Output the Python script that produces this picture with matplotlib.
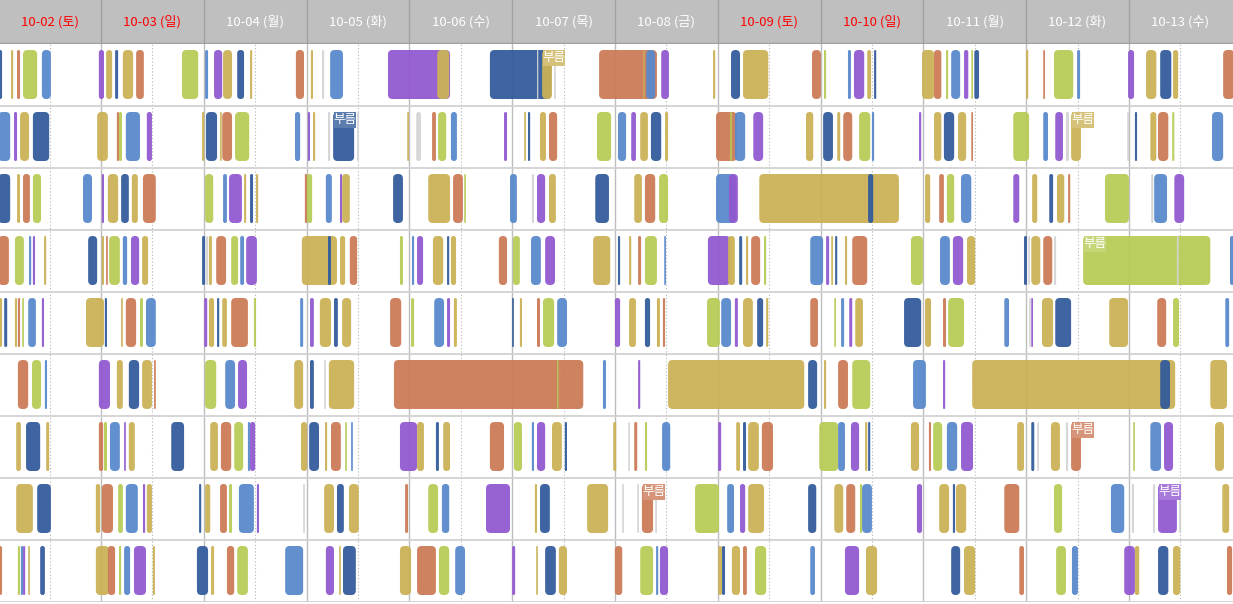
import matplotlib
matplotlib.use("Agg")
import matplotlib.pyplot as plt
from matplotlib.patches import FancyBboxPatch, Rectangle
from matplotlib.colors import to_rgb

plt.rcParams['font.family'] = ['Noto Sans CJK KR', 'DejaVu Sans']

# header labels (one column per day, 24h each)
days = ["10-02 (토)", "10-03 (일)", "10-04 (월)", "10-05 (화)", "10-06 (수)", "10-07 (목)",
        "10-08 (금)", "10-09 (토)", "10-10 (일)", "10-11 (월)", "10-12 (화)", "10-13 (수)"]
weekend = [True, True, False, False, False, False, False, True, True, False, False, False]

# P purple, O olive, G green, B blue, D dark blue, R orange, L light gray
colors = {'P': '#9158cf', 'O': '#cbb257', 'G': '#b6cc56', 'B': '#5889cc',
          'D': '#325b9b', 'R': '#cc7a56', 'L': '#d4d4d4'}

# (start hour, end hour, colour) counted from 10-02 00:00
row1 = [(0.0, 0.9, 'D'), (3.0, 3.5, 'O'), (4.4, 5.1, 'R'), (5.8, 9.1, 'G'), (10.2, 12.3, 'B'),
        (23.5, 24.7, 'P'), (25.2, 26.6, 'O'), (27.3, 28.0, 'D'), (29.1, 31.5, 'O'), (32.2, 34.0, 'R'),
        (42.9, 46.7, 'G'), (48.3, 49.0, 'B'), (50.4, 52.3, 'P'), (52.5, 54.6, 'O'), (55.8, 57.4, 'D'),
        (58.8, 59.3, 'O'), (69.5, 71.4, 'R'), (73.0, 73.5, 'O'), (75.6, 76.1, 'L'), (77.5, 80.5, 'B'),
        (91.0, 105.5, 'P'), (102.5, 105.3, 'O'), (114.8, 129.1, 'D'), (125.8, 126.1, 'L'),
        (127.0, 129.3, 'O'), (129.8, 130.2, 'L'), (140.3, 153.8, 'R'), (150.6, 150.9, 'O'),
        (151.3, 153.4, 'B'), (154.8, 156.6, 'P'), (166.9, 167.4, 'O'), (171.1, 173.2, 'D'),
        (173.9, 179.8, 'O'), (190.0, 192.1, 'R'), (192.8, 193.3, 'G'), (198.4, 199.1, 'B'),
        (199.8, 202.2, 'P'), (202.9, 203.8, 'O'), (204.5, 205.0, 'D'), (215.7, 218.5, 'O'),
        (218.5, 220.2, 'R'), (221.3, 221.8, 'G'), (222.5, 224.6, 'B'), (225.5, 226.5, 'P'),
        (227.2, 227.6, 'G'), (227.9, 229.0, 'D'), (240.0, 240.5, 'O'), (244.0, 244.4, 'R'),
        (246.5, 251.0, 'G'), (251.9, 252.6, 'B'), (263.8, 265.2, 'P'), (268.0, 270.4, 'O'),
        (271.3, 273.9, 'D'), (274.3, 275.5, 'O'), (286.0, 288.6, 'R')]

row2 = [(0.0, 2.8, 'B'), (3.7, 4.4, 'P'), (5.1, 7.2, 'O'), (8.1, 11.9, 'D'), (23.1, 25.6, 'O'),
        (27.7, 28.2, 'R'), (28.2, 28.9, 'G'), (29.8, 33.1, 'B'), (34.7, 35.9, 'P'), (47.6, 48.1, 'O'),
        (48.5, 51.1, 'D'), (51.8, 52.2, 'O'), (52.3, 54.6, 'R'), (55.3, 58.6, 'G'), (69.3, 70.5, 'B'),
        (72.3, 72.8, 'P'), (73.5, 74.0, 'O'), (77.0, 77.5, 'L'), (78.2, 83.1, 'D'), (83.8, 84.2, 'L'),
        (95.5, 95.9, 'O'), (97.6, 98.7, 'L'), (101.3, 102.2, 'R'), (102.7, 104.6, 'G'),
        (105.7, 107.1, 'B'), (118.1, 118.8, 'P'), (122.8, 123.2, 'O'), (123.7, 124.2, 'D'),
        (126.5, 127.9, 'O'), (128.6, 130.5, 'R'), (139.8, 143.1, 'G'), (144.7, 146.6, 'B'),
        (147.8, 148.9, 'P'), (149.9, 151.7, 'O'), (152.4, 154.8, 'D'), (155.7, 156.4, 'O'),
        (167.6, 172.5, 'R'), (170.9, 171.3, 'G'), (172.0, 174.4, 'B'), (176.3, 178.6, 'P'),
        (188.6, 190.3, 'O'), (192.6, 194.9, 'D'), (195.9, 196.6, 'O'), (197.3, 199.4, 'R'),
        (201.0, 203.6, 'G'), (204.0, 204.5, 'B'), (215.0, 215.5, 'P'), (218.5, 220.2, 'O'),
        (220.8, 223.2, 'D'), (224.1, 226.0, 'O'), (227.2, 227.6, 'R'), (237.0, 240.7, 'G'),
        (244.0, 245.1, 'B'), (246.8, 248.6, 'P'), (249.3, 250.0, 'L'), (250.5, 252.8, 'O'),
        (263.6, 264.0, 'L'), (265.4, 265.9, 'D'), (269.0, 270.4, 'O'), (270.8, 273.2, 'R'),
        (274.1, 274.6, 'G'), (283.4, 286.0, 'B')]

row3 = [(0.0, 2.8, 'D'), (4.4, 5.1, 'O'), (5.8, 7.4, 'R'), (8.1, 10.0, 'G'), (19.8, 21.9, 'B'),
        (24.2, 24.7, 'P'), (25.6, 28.0, 'O'), (28.7, 30.5, 'D'), (31.2, 32.6, 'O'), (33.8, 36.8, 'R'),
        (48.3, 50.2, 'G'), (52.5, 53.4, 'B'), (53.9, 56.9, 'P'), (57.4, 57.9, 'O'), (58.8, 59.5, 'D'),
        (60.2, 60.7, 'O'), (71.6, 72.1, 'R'), (72.1, 73.3, 'G'), (76.5, 77.9, 'B'), (79.8, 80.3, 'P'),
        (80.3, 82.1, 'O'), (92.2, 94.5, 'D'), (100.4, 105.5, 'O'), (106.2, 108.5, 'R'),
        (108.8, 109.2, 'G'), (119.5, 121.1, 'B'), (124.6, 125.1, 'L'), (125.8, 127.7, 'P'),
        (128.6, 130.2, 'O'), (139.4, 142.6, 'D'), (148.5, 150.3, 'O'), (151.0, 153.4, 'R'),
        (154.3, 156.4, 'G'), (167.6, 172.3, 'B'), (170.6, 172.7, 'P'), (177.7, 210.3, 'O'),
        (203.1, 204.3, 'D'), (216.4, 217.6, 'O'), (219.7, 220.8, 'R'), (221.5, 223.2, 'G'),
        (224.8, 227.2, 'B'), (237.0, 238.4, 'P'), (241.4, 242.6, 'O'), (245.4, 246.3, 'D'),
        (247.2, 248.9, 'O'), (249.8, 250.3, 'R'), (258.4, 264.0, 'G'), (269.2, 269.7, 'L'),
        (269.9, 272.9, 'B'), (274.6, 276.9, 'P')]

row4 = [(0.0, 2.5, 'R'), (3.9, 6.0, 'G'), (7.2, 7.7, 'B'), (8.1, 8.6, 'P'), (10.7, 11.2, 'O'),
        (21.0, 23.1, 'D'), (24.2, 24.7, 'O'), (25.2, 25.6, 'R'), (25.9, 28.4, 'G'), (29.1, 30.1, 'B'),
        (31.0, 32.9, 'P'), (33.6, 35.0, 'O'), (47.6, 48.3, 'D'), (48.5, 49.0, 'L'), (49.2, 49.9, 'O'),
        (50.9, 53.2, 'R'), (54.4, 56.0, 'G'), (56.5, 57.4, 'B'), (57.9, 60.4, 'P'), (70.9, 79.1, 'O'),
        (77.0, 77.7, 'D'), (79.8, 81.0, 'O'), (82.1, 83.8, 'R'), (93.8, 94.5, 'G'), (96.6, 97.1, 'B'),
        (97.8, 99.2, 'P'), (101.5, 103.9, 'O'), (104.8, 105.3, 'D'), (105.7, 106.9, 'O'),
        (116.9, 118.8, 'R'), (120.2, 121.8, 'G'), (124.4, 126.7, 'B'), (127.7, 130.0, 'P'),
        (138.9, 142.9, 'O'), (144.7, 145.2, 'D'), (147.3, 147.8, 'O'), (149.4, 150.1, 'R'),
        (151.0, 153.8, 'G'), (155.5, 155.9, 'B'), (165.7, 170.9, 'P'), (170.4, 172.0, 'O'),
        (173.0, 173.7, 'D'), (174.6, 175.1, 'O'), (175.8, 177.9, 'R'), (178.8, 179.3, 'G'),
        (189.6, 192.6, 'B'), (193.3, 194.0, 'P'), (194.5, 194.9, 'O'), (195.4, 195.9, 'D'),
        (197.7, 198.2, 'O'), (199.4, 202.9, 'R'), (213.1, 215.9, 'G'), (219.9, 222.2, 'B'),
        (222.9, 225.3, 'P'), (226.2, 228.1, 'O'), (239.5, 240.2, 'D'), (240.5, 240.9, 'L'),
        (241.2, 243.3, 'O'), (244.0, 246.1, 'R'), (246.5, 247.0, 'L'), (253.3, 283.0, 'G'),
        (275.2, 275.6, 'L'), (287.6, 288.6, 'B')]

row5 = [(0.0, 0.9, 'O'), (1.4, 2.1, 'D'), (3.9, 4.4, 'O'), (4.6, 5.1, 'R'), (5.6, 6.0, 'G'),
        (7.0, 8.8, 'B'), (10.2, 10.7, 'P'), (20.5, 24.7, 'O'), (24.9, 25.4, 'D'), (28.7, 29.1, 'O'),
        (29.8, 32.2, 'R'), (33.1, 33.8, 'G'), (34.5, 36.8, 'B'), (48.1, 48.8, 'P'), (49.2, 50.4, 'O'),
        (51.1, 51.6, 'D'), (52.3, 53.4, 'O'), (54.4, 58.3, 'R'), (59.7, 60.2, 'G'), (70.5, 71.2, 'B'),
        (72.8, 73.7, 'P'), (75.1, 77.7, 'O'), (78.4, 79.3, 'D'), (80.3, 82.4, 'O'), (91.5, 94.1, 'R'),
        (96.4, 97.1, 'G'), (101.8, 104.1, 'B'), (104.8, 105.5, 'P'), (106.4, 107.1, 'O'),
        (120.0, 120.4, 'D'), (121.8, 122.3, 'O'), (125.8, 126.5, 'R'), (127.2, 129.8, 'G'),
        (130.5, 132.8, 'B'), (144.0, 145.2, 'P'), (147.3, 148.9, 'O'), (151.0, 152.2, 'D'),
        (153.8, 154.5, 'O'), (155.2, 155.7, 'R'), (165.5, 168.5, 'G'), (168.8, 171.1, 'B'),
        (172.0, 172.7, 'P'), (173.9, 176.2, 'O'), (177.2, 178.6, 'D'), (179.3, 179.8, 'O'),
        (189.6, 191.4, 'R'), (195.2, 195.6, 'G'), (196.8, 197.5, 'B'), (198.7, 199.4, 'P'),
        (200.1, 201.9, 'O'), (211.5, 215.5, 'D'), (216.4, 217.8, 'O'), (220.6, 221.3, 'R'),
        (221.8, 225.5, 'G'), (234.9, 236.0, 'B'), (240.7, 241.1, 'L'), (241.2, 241.6, 'P'),
        (243.7, 246.3, 'O'), (246.8, 250.5, 'D'), (259.4, 263.8, 'O'), (270.6, 272.7, 'R'),
        (274.3, 275.7, 'G'), (286.5, 287.4, 'B')]

row6 = [(4.6, 7.0, 'R'), (7.9, 10.0, 'G'), (10.9, 11.4, 'B'), (23.5, 26.1, 'P'), (27.7, 29.1, 'O'),
        (30.5, 32.9, 'D'), (33.6, 35.9, 'O'), (36.4, 36.8, 'R'), (48.3, 50.9, 'G'), (53.0, 55.3, 'B'),
        (56.0, 58.1, 'P'), (69.1, 71.2, 'O'), (72.8, 73.7, 'D'), (76.1, 76.5, 'L'), (77.2, 83.1, 'O'),
        (92.4, 136.6, 'R'), (130.5, 130.8, 'G'), (141.2, 141.9, 'B'), (149.4, 149.9, 'P'),
        (156.4, 188.2, 'O'), (189.1, 191.2, 'D'), (192.8, 193.3, 'O'), (196.1, 198.4, 'R'),
        (199.4, 203.6, 'G'), (213.6, 216.6, 'B'), (220.6, 221.1, 'P'), (227.4, 274.8, 'O'),
        (271.3, 273.6, 'D'), (283.0, 286.9, 'O')]

row7 = [(4.2, 5.3, 'O'), (6.5, 9.8, 'D'), (11.2, 11.9, 'O'), (23.5, 24.5, 'R'), (24.7, 25.4, 'G'),
        (26.1, 28.4, 'B'), (29.4, 29.8, 'P'), (30.5, 31.9, 'O'), (40.4, 43.4, 'D'), (49.5, 51.3, 'O'),
        (52.0, 54.4, 'R'), (55.1, 57.2, 'G'), (58.3, 58.8, 'B'), (58.8, 60.0, 'P'), (70.7, 72.1, 'O'),
        (72.6, 74.9, 'D'), (76.3, 76.8, 'O'), (77.7, 80.0, 'R'), (81.0, 81.4, 'G'), (82.4, 82.8, 'B'),
        (93.8, 97.8, 'P'), (97.8, 99.4, 'O'), (102.2, 102.9, 'D'), (103.9, 105.5, 'O'),
        (114.8, 118.1, 'R'), (120.4, 122.3, 'G'), (124.6, 125.1, 'B'), (125.8, 127.7, 'P'),
        (129.3, 131.6, 'O'), (132.3, 132.8, 'D'), (143.6, 144.3, 'O'), (147.1, 147.5, 'L'),
        (148.5, 149.2, 'R'), (151.0, 151.5, 'G'), (155.0, 156.9, 'B'), (168.1, 168.8, 'P'),
        (172.3, 173.2, 'O'), (173.9, 174.6, 'D'), (175.1, 177.6, 'O'), (178.3, 180.9, 'R'),
        (191.7, 196.1, 'G'), (196.1, 197.7, 'B'), (199.1, 201.0, 'P'), (202.4, 202.9, 'O'),
        (203.1, 203.6, 'D'), (213.1, 215.0, 'O'), (217.3, 217.8, 'R'), (218.3, 220.4, 'G'),
        (221.5, 223.9, 'B'), (224.8, 227.6, 'P'), (237.9, 239.5, 'O'), (241.2, 241.9, 'D'),
        (242.6, 243.0, 'L'), (245.8, 247.9, 'O'), (249.3, 249.8, 'L'), (250.5, 252.8, 'R'),
        (265.0, 265.4, 'G'), (269.0, 271.5, 'B'), (272.2, 274.3, 'P'), (284.1, 286.2, 'O')]

row8 = [(4.2, 8.1, 'O'), (9.1, 12.3, 'D'), (22.8, 23.8, 'O'), (24.2, 26.8, 'R'), (28.0, 29.1, 'G'),
        (29.8, 32.6, 'B'), (33.8, 34.3, 'P'), (34.7, 35.9, 'O'), (46.9, 47.4, 'D'), (48.3, 49.5, 'O'),
        (51.8, 53.4, 'R'), (53.9, 54.6, 'G'), (56.2, 59.7, 'B'), (60.4, 60.9, 'P'), (71.2, 71.6, 'L'),
        (76.1, 78.4, 'O'), (79.1, 80.7, 'D'), (81.9, 84.2, 'O'), (95.0, 95.7, 'R'), (100.4, 102.7, 'G'),
        (103.6, 105.3, 'B'), (113.9, 119.5, 'P'), (125.3, 125.8, 'O'), (126.5, 128.8, 'D'),
        (137.5, 142.4, 'O'), (145.7, 146.1, 'L'), (149.2, 149.6, 'L'), (150.3, 152.9, 'R'),
        (153.4, 153.8, 'L'), (162.7, 168.3, 'G'), (170.2, 171.8, 'B'), (173.2, 174.4, 'P'),
        (175.1, 178.8, 'O'), (189.1, 191.0, 'D'), (195.2, 197.3, 'O'), (198.0, 200.1, 'R'),
        (201.2, 201.7, 'G'), (201.7, 204.0, 'B'), (214.5, 215.7, 'P'), (219.7, 222.0, 'O'),
        (222.9, 223.4, 'D'), (223.6, 226.0, 'O'), (234.9, 238.4, 'R'), (246.5, 248.4, 'G'),
        (259.8, 262.9, 'B'), (264.7, 265.2, 'L'), (269.6, 270.1, 'L'), (270.8, 275.2, 'P'),
        (275.7, 276.2, 'L'), (285.8, 287.4, 'O')]

row9 = [(0.0, 0.9, 'R'), (4.6, 5.1, 'G'), (5.3, 5.8, 'B'), (5.8, 6.3, 'P'), (7.0, 7.4, 'O'),
        (9.8, 10.9, 'D'), (22.8, 25.9, 'O'), (25.6, 27.3, 'R'), (28.2, 28.7, 'G'), (29.4, 30.8, 'B'),
        (31.7, 34.5, 'P'), (36.1, 36.6, 'O'), (46.4, 49.0, 'D'), (49.7, 50.4, 'O'), (53.4, 55.1, 'R'),
        (55.8, 58.3, 'G'), (67.0, 71.2, 'B'), (76.5, 78.4, 'P'), (79.6, 80.0, 'O'), (80.5, 83.5, 'D'),
        (93.8, 96.4, 'O'), (97.8, 102.2, 'R'), (102.9, 105.3, 'G'), (106.7, 109.0, 'B'),
        (120.0, 120.7, 'P'), (125.6, 126.0, 'O'), (127.7, 130.2, 'D'), (130.9, 132.8, 'O'),
        (144.0, 145.7, 'R'), (149.9, 152.9, 'G'), (153.6, 154.1, 'B'), (154.5, 156.4, 'P'),
        (168.1, 169.0, 'O'), (169.0, 169.7, 'D'), (171.3, 173.2, 'O'), (173.9, 174.8, 'R'),
        (176.7, 179.3, 'G'), (189.6, 190.7, 'B'), (197.7, 201.0, 'P'), (202.6, 205.2, 'O'),
        (222.5, 224.6, 'D'), (225.5, 228.1, 'O'), (238.4, 239.5, 'R'), (247.0, 249.3, 'G'),
        (250.7, 252.1, 'B'), (262.9, 265.4, 'P'), (265.4, 266.4, 'O'), (270.8, 273.2, 'D'),
        (274.3, 276.0, 'O'), (286.9, 288.1, 'R')]

rows = [row1, row2, row3, row4, row5, row6, row7, row8, row9]

# "부름" tags: (row index, start hour, colour)
tags = [(0, 127.0, 'O'), (1, 78.2, 'D'), (1, 250.5, 'O'), (3, 253.3, 'G'),
        (6, 250.5, 'R'), (7, 150.3, 'R'), (7, 270.8, 'P')]

W, H = 1233, 604
fig = plt.figure(figsize=(W / 100, H / 100), dpi=100)
x0, x1 = 0.42, 288.3
xpp = (x1 - x0) / W          # hours per pixel
ypp = 9 / 558                # rows per pixel
asp = ypp / xpp

hdr = fig.add_axes([0, 1 - 44 / H, 1, 44 / H])
ax = fig.add_axes([0, 2 / H, 1, 558 / H])

for a in (hdr, ax):
    a.set_xlim(x0, x1)
    a.set_xticks([])
    a.set_yticks([])
    for sp in a.spines.values():
        sp.set_visible(False)

# header
hdr.set_facecolor('#bfbfbf')
hdr.set_ylim(0, 1)
for i, lab in enumerate(days):
    if i > 0:
        hdr.axvline(i * 24, color='#a2a2a2', lw=1.0)
    hdr.text(i * 24 + 12, 0.5, lab, ha='center', va='center', fontsize=9.5,
             color='#ff0000' if weekend[i] else 'white')
hdr.axhline(0.0, color='#a0a0a0', lw=2.5)

# body grid
ax.set_ylim(9, 0)
for i in range(1, 12):
    ax.axvline(i * 24, color='#bdbdbd', lw=1.0, zorder=0)
for i in range(12):
    ax.axvline(i * 24 + 12, color='#b5b5b5', lw=0.8, ls=(0, (1, 2)), zorder=0)
for r in range(1, 10):
    ax.axhline(r, color='#d2d2d2', lw=1.3, zorder=0)

bar_top = 6 * ypp
bar_h = 49 * ypp
rad = 4.5 * xpp

for r, row in enumerate(rows):
    for s, e, c in row:
        w = e - s
        rs = min(rad, w / 2 * 0.98)
        p = FancyBboxPatch((s, r + bar_top), w, bar_h,
                           boxstyle=f"round,pad=0,rounding_size={rs}",
                           mutation_aspect=asp, fc=colors[c], ec='none',
                           alpha=0.94, zorder=2)
        ax.add_patch(p)

for r, s, c in tags:
    rgb = to_rgb(colors[c])
    light = tuple(v + (1 - v) * 0.2 for v in rgb)
    tw, th = 22 * xpp, 16 * ypp
    ax.add_patch(Rectangle((s + 0.2, r + bar_top), tw, th, fc=light, ec='none', zorder=3))
    ax.text(s + 0.2 + tw / 2, r + bar_top + th * 0.45, "부름", ha='center', va='center',
            fontsize=9, color='white', zorder=4)

fig.savefig("out.png", dpi=100)
